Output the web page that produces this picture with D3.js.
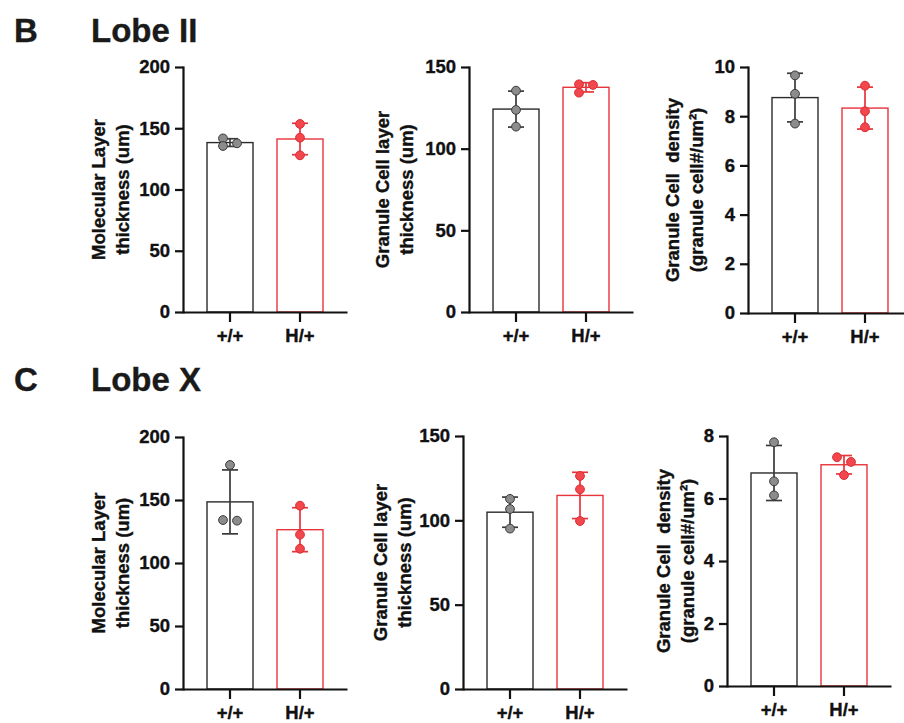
<!DOCTYPE html>
<html>
<head>
<meta charset="utf-8">
<script src="https://cdn.jsdelivr.net/npm/d3@7"></script>
<style>
  body { margin: 0; background: #fff; }
  svg { display: block; font-family: "Liberation Sans", Arial, sans-serif; font-weight: bold; }
  text { stroke: #111; stroke-width: 0.35px; }
</style>
</head>
<body>
<svg id="fig" width="904" height="723"></svg>
<script>
var groups = ["+/+", "H/+"];

// Lobe II
var lobe2MolWT  = [141.7, 137.7, 135.5];
var lobe2MolHet = [153.5, 142.3, 127.9];
var lobe2GclWT  = [135.5, 123.7, 113.5];
var lobe2GclHet = [139.4, 139.0, 134.3];
var lobe2DenWT  = [9.66, 8.91, 7.70];
var lobe2DenHet = [9.24, 8.20, 7.55];

// Lobe X
var lobeXMolWT  = [177.8, 134.1, 133.6];
var lobeXMolHet = [145.5, 122.5, 111.3];
var lobeXGclWT  = [112.7, 106.7, 95.1];
var lobeXGclHet = [126.3, 118.4, 99.6];
var lobeXDenWT  = [7.80, 6.55, 6.10];
var lobeXDenHet = [7.32, 7.17, 6.75];

var thickTicks = [0, 50, 100, 150, 200];
var gclTicks   = [0, 50, 100, 150];
var den2Ticks  = [0, 2, 4, 6, 8, 10];
var denXTicks  = [0, 2, 4, 6, 8];

var molTitle = ["Molecular Layer", "thickness (um)"];
var gclTitle = ["Granule Cell layer", "thickness (um)"];
var denTitle = ["Granule Cell  density", "(granule cell#/um\u00b2)"];

var panels = [
  { wt: lobe2MolWT, het: lobe2MolHet, ticks: thickTicks, title: molTitle, ax: 183, top: 67,  bottom: 312, tOff: 60 },
  { wt: lobe2GclWT, het: lobe2GclHet, ticks: gclTicks,   title: gclTitle, ax: 469, top: 67,  bottom: 312, tOff: 62 },
  { wt: lobe2DenWT, het: lobe2DenHet, ticks: den2Ticks,  title: denTitle, ax: 748, top: 67,  bottom: 313, tOff: 51 },
  { wt: lobeXMolWT, het: lobeXMolHet, ticks: thickTicks, title: molTitle, ax: 183, top: 437, bottom: 689, tOff: 60 },
  { wt: lobeXGclWT, het: lobeXGclHet, ticks: gclTicks,   title: gclTitle, ax: 463, top: 436, bottom: 689, tOff: 58 },
  { wt: lobeXDenWT, het: lobeXDenHet, ticks: denXTicks,  title: denTitle, ax: 727, top: 436, bottom: 686, tOff: 39 }
];

var colors = {
  "+/+": { bar: "#2b2b2b", err: "#3a3a3a", dot: "#8c8c8c", dotStroke: "#3a3a3a" },
  "H/+": { bar: "#e8343b", err: "#e8343b", dot: "#f2474c", dotStroke: "#d92c32" }
};

var svg = d3.select("#fig");

// Section headings
function heading(letter, label, y) {
  svg.append("text").attr("x", 14).attr("y", y).style("font-size", "33px").style("fill", "#1a1a1a").style("stroke", "#1a1a1a").text(letter);
  svg.append("text").attr("x", 91).attr("y", y).style("font-size", "33px").style("fill", "#1a1a1a").style("stroke", "#1a1a1a").text(label);
}
heading("B", "Lobe II", 42);
heading("C", "Lobe X", 391);

var axisLen = 164, r = 4.4, spread = 7;

// spread overlapping dots sideways, alternating left/right
function dotOffsets(vals, y) {
  var sorted = vals.slice().sort(function(a, b) { return b - a; });
  var out = [], cluster = [];
  function flush() {
    cluster.forEach(function(v, i) {
      var off = cluster.length === 1 ? 0 : (i % 2 === 0 ? -spread : spread);
      out.push({ v: v, off: off });
    });
    cluster = [];
  }
  sorted.forEach(function(v, i) {
    if (i > 0 && Math.abs(y(v) - y(sorted[i - 1])) >= 8) flush();
    cluster.push(v);
  });
  flush();
  return out;
}

panels.forEach(function(p) {
  var g = svg.append("g");
  var max = p.ticks[p.ticks.length - 1];

  var y = d3.scaleLinear().domain([0, max]).range([p.bottom, p.top]);
  var x = d3.scaleBand().domain(groups).range([p.ax, p.ax + axisLen])
    .paddingInner(0.343).paddingOuter(0.343);

  var series = [{ key: "+/+", vals: p.wt }, { key: "H/+", vals: p.het }];

  series.forEach(function(s) {
    var c = colors[s.key];
    var mean = d3.mean(s.vals), sd = d3.deviation(s.vals);
    var cx = x(s.key) + x.bandwidth() / 2;

    g.append("rect")
      .attr("x", x(s.key))
      .attr("y", y(mean))
      .attr("width", x.bandwidth())
      .attr("height", y(0) - y(mean))
      .style("fill", "#fff")
      .style("stroke", c.bar)
      .style("stroke-width", 1.4);

    var eb = g.append("g").style("stroke", c.err).style("stroke-width", 1.7);
    eb.append("line").attr("x1", cx).attr("x2", cx).attr("y1", y(mean - sd)).attr("y2", y(mean + sd));
    [mean - sd, mean + sd].forEach(function(v) {
      eb.append("line").attr("x1", cx - 8).attr("x2", cx + 8).attr("y1", y(v)).attr("y2", y(v));
    });

    g.selectAll(null)
      .data(dotOffsets(s.vals, y))
      .enter().append("circle")
      .attr("cx", function(d) { return cx + d.off; })
      .attr("cy", function(d) { return y(d.v); })
      .attr("r", r)
      .style("fill", c.dot)
      .style("stroke", c.dotStroke)
      .style("stroke-width", 1);
  });

  // Y axis
  var yAxisG = g.append("g")
    .attr("transform", "translate(" + p.ax + ",0)")
    .call(d3.axisLeft(y).tickValues(p.ticks).tickSize(8).tickSizeOuter(0).tickPadding(5).tickFormat(d3.format("d")));
  yAxisG.selectAll("path, line").style("stroke", "#111").style("stroke-width", 2.2);
  yAxisG.select(".domain").attr("stroke-linecap", "square");
  yAxisG.selectAll("text").style("font-size", "18.5px").style("font-family", null).style("fill", "#111");

  // X axis
  var xAxisG = g.append("g")
    .attr("transform", "translate(0," + p.bottom + ")")
    .call(d3.axisBottom(x).tickSize(10).tickSizeOuter(0).tickPadding(7));
  xAxisG.selectAll("path, line").style("stroke", "#111").style("stroke-width", 2.2);
  xAxisG.selectAll("text").style("font-size", "18.5px").style("font-family", null).style("fill", "#111");

  // Y title, two lines
  var midY = (p.top + p.bottom) / 2;
  p.title.forEach(function(line, i) {
    g.append("text")
      .attr("transform", "translate(" + (p.ax - p.tOff - (1 - i) * 24) + "," + midY + ") rotate(-90)")
      .attr("text-anchor", "middle")
      .attr("dy", "0.35em")
      .style("white-space", "pre")
      .style("font-size", "18.5px")
      .style("fill", "#111")
      .text(line);
  });
});
</script>
</body>
</html>
